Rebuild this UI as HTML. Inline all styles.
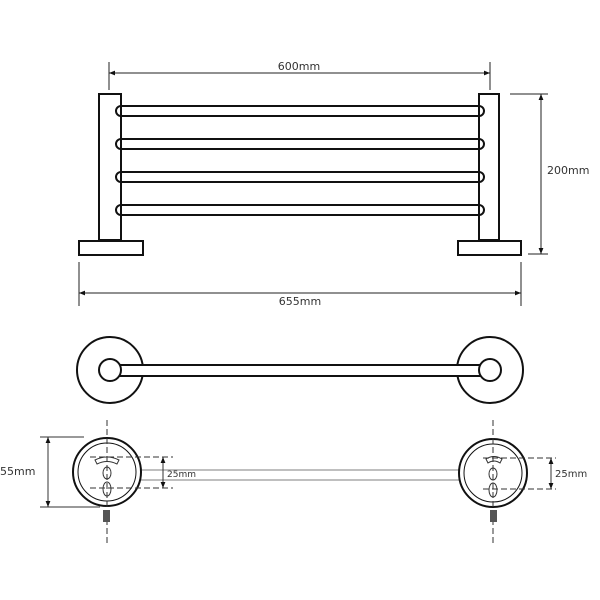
<!DOCTYPE html>
<html><head><meta charset="utf-8"><style>
html,body{margin:0;padding:0;background:#fff;width:600px;height:600px;overflow:hidden}
svg text{font-family:"DejaVu Sans","Liberation Sans",sans-serif;fill:#333}
</style></head><body>
<svg width="600" height="600" viewBox="0 0 600 600" xmlns="http://www.w3.org/2000/svg">
<defs>
<marker id="a" viewBox="0 0 10 10" refX="10" refY="5" markerWidth="6" markerHeight="6" orient="auto-start-reverse"><path d="M0,1 L10,5 L0,9z" fill="#111"/></marker>
</defs>
<g stroke="#111" fill="none" stroke-width="2">
<!-- top elevation -->
<rect x="99" y="94" width="22" height="146" fill="#fff"/>
<rect x="479" y="94" width="20" height="146" fill="#fff"/>
<rect x="79" y="241" width="64" height="14" fill="#fff"/>
<rect x="458" y="241" width="63" height="14" fill="#fff"/>
<g>
<path d="M121,106 H479 A5,5 0 0 1 479,116 H121 A5,5 0 0 1 121,106Z"/>
<path d="M121,139 H479 A5,5 0 0 1 479,149 H121 A5,5 0 0 1 121,139Z"/>
<path d="M121,172 H479 A5,5 0 0 1 479,182 H121 A5,5 0 0 1 121,172Z"/>
<path d="M121,205 H479 A5,5 0 0 1 479,215 H121 A5,5 0 0 1 121,205Z"/>
</g>
</g>
<g stroke="#222" stroke-width="1" fill="none">
<line x1="109" y1="62" x2="109" y2="90"/>
<line x1="490" y1="62" x2="490" y2="90"/>
<line x1="109" y1="73" x2="490" y2="73" marker-start="url(#a)" marker-end="url(#a)"/>
<line x1="79" y1="262" x2="79" y2="306"/>
<line x1="521" y1="262" x2="521" y2="306"/>
<line x1="79" y1="293" x2="521" y2="293" marker-start="url(#a)" marker-end="url(#a)"/>
<line x1="510" y1="94" x2="548" y2="94"/>
<line x1="528" y1="254" x2="548" y2="254"/>
<line x1="541" y1="94" x2="541" y2="254" marker-start="url(#a)" marker-end="url(#a)"/>
</g>
<text x="299" y="70" font-size="11" text-anchor="middle">600mm</text>
<text x="300" y="305" font-size="11" text-anchor="middle">655mm</text>
<text x="547" y="174" font-size="11">200mm</text>
<!-- plan view -->
<g stroke="#111" stroke-width="2" fill="#fff">
<circle cx="110" cy="370" r="33"/>
<circle cx="490" cy="370" r="33"/>
<rect x="115" y="365" width="375" height="11"/>
<circle cx="110" cy="370" r="11"/>
<circle cx="490" cy="370" r="11"/>
</g>
<!-- front view -->
<g stroke="#999" stroke-width="1.2">
<line x1="138" y1="470" x2="462" y2="470"/>
<line x1="138" y1="480" x2="462" y2="480"/>
</g>
<g fill="#fff" stroke="#111">
<circle cx="107" cy="472" r="34" stroke-width="2"/>
<circle cx="107" cy="472" r="29" stroke-width="1"/>
<circle cx="493" cy="473" r="34" stroke-width="2"/>
<circle cx="493" cy="473" r="29" stroke-width="1"/>
</g>
<g stroke="#333" stroke-width="1" fill="none">
<line x1="107" y1="420" x2="107" y2="545" stroke-dasharray="6,3"/>
<line x1="493" y1="420" x2="493" y2="545" stroke-dasharray="6,3"/>
<line x1="90" y1="457" x2="173" y2="457" stroke-dasharray="6,3"/>
<line x1="90" y1="488" x2="173" y2="488" stroke-dasharray="6,3"/>
<line x1="483" y1="458" x2="556" y2="458" stroke-dasharray="6,3"/>
<line x1="483" y1="489" x2="556" y2="489" stroke-dasharray="6,3"/>
<line x1="163" y1="457" x2="163" y2="488" marker-start="url(#a)" marker-end="url(#a)"/>
<line x1="551" y1="458" x2="551" y2="489" marker-start="url(#a)" marker-end="url(#a)"/>
<line x1="40" y1="437" x2="84" y2="437"/>
<line x1="40" y1="507" x2="100" y2="507"/>
<line x1="48" y1="437" x2="48" y2="507" marker-start="url(#a)" marker-end="url(#a)"/>
<path d="M95,460 Q107,454 119,460 L117,464 Q107,459 97,464Z"/>
<path d="M486,459 Q494,454 502,459 L500,463 Q494,459 488,463Z"/>
<ellipse cx="107" cy="473" rx="4" ry="6"/>
<ellipse cx="107" cy="489" rx="4" ry="7"/>
<ellipse cx="493" cy="474" rx="4" ry="6"/>
<ellipse cx="493" cy="490" rx="4" ry="7"/>
</g>
<rect x="103" y="510" width="7" height="12" fill="#555"/>
<rect x="490" y="510" width="7" height="12" fill="#555"/>
<text x="0" y="475" font-size="11">55mm</text>
<text x="167" y="477" font-size="9">25mm</text>
<text x="555" y="477" font-size="10">25mm</text>
</svg>
</body></html>
